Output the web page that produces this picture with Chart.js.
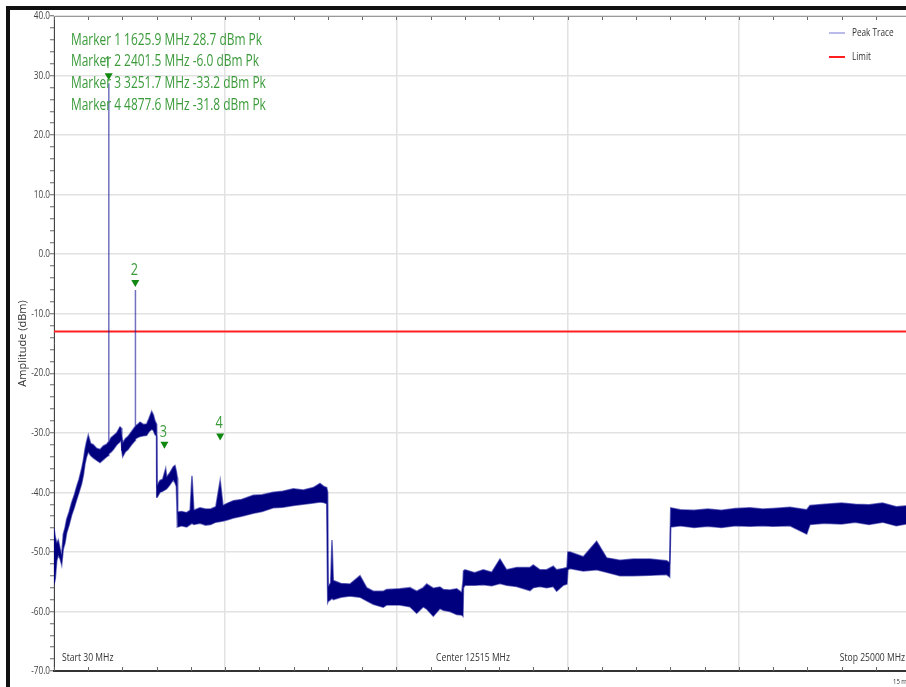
<!DOCTYPE html>
<html>
<head>
<meta charset="utf-8">
<script src="https://cdn.jsdelivr.net/npm/chart.js@4.4.1/dist/chart.umd.min.js"></script>
<style>
    html, body { margin: 0; padding: 0; background: #fff; overflow: hidden; }
    canvas { position: absolute; left: 0; top: 0; }
    #moldura { position: absolute; left: 6px; top: 6px; width: 1000px; height: 1000px;
        border-left: 4px solid #111; border-top: 4px solid #111; pointer-events: none; }
</style>
</head>
<body>
<canvas id="grafico" width="920" height="687"></canvas>
<div id="moldura"></div>
<script>
// varredura 30 MHz - 25 GHz, envoltoria do traco de pico (topo / fundo do ruido)
const frequencias = [
    30, 68, 110, 155, 210, 255, 301, 350, 400, 470, 546, 620, 692, 760, 838, 890, 934, 980, 1030, 1100,
    1176, 1270, 1372, 1470, 1567, 1620, 1625.9, 1632, 1700, 1760, 1860, 1955, 1990, 2010, 2034, 2110,
    2189, 2290, 2393, 2401.5, 2410, 2470, 2539, 2640, 2734, 2800, 2880, 2930, 2976, 3020, 3026,
    3040, 3122, 3200, 3288, 3317, 3400, 3510, 3560, 3600, 3627,
    3640, 3750, 3900, 4000, 4055, 4110, 4289, 4450, 4600, 4750, 4877.6, 4960, 5100, 5261, 5500, 5844,
    6100, 6427, 6700, 7010, 7300, 7594, 7789, 7900, 7984, 8014,
    8030, 8100, 8139, 8178, 8400, 8664, 8956, 9151, 9344, 9636, 9735, 10123, 10414, 10610, 10802,
    10902, 11094, 11289, 11386, 11581, 11777, 11923, 11960,
    11975, 12019, 12300, 12553, 12800, 13039, 13233, 13525, 13914, 14011, 14206, 14400, 14594, 14692, 14886, 14994,
    15020, 15081, 15470, 15859, 16151, 16540, 16929, 17415, 17902, 17990,
    18020, 18300, 18700, 19100, 19500, 19900, 20332, 20700, 21000, 21500, 21987, 22082, 22500,
    23000, 23400, 23800, 24200, 24600, 25000
];
const picoSuperior = [
    -46.0, -47.5, -48.5, -48.0, -49.5, -50.5, -47.0, -46.0, -44.5, -43.3, -41.7, -40.5, -39.0, -37.8, -36.0, -34.5, -32.8, -31.5, -30.4, -31.8,
    -32.0, -32.6, -32.8, -32.2, -31.9, -31.5, 28.7, -31.5, -30.8, -30.5, -30.0, -29.0, -29.2, -30.5, -31.7, -31.0,
    -30.6, -29.8, -29.0, -6.0, -28.8, -28.6, -28.2, -28.6, -28.5, -27.6, -26.4, -27.0, -28.0, -28.5, -29.0,
    -38.8, -38.0, -37.8, -36.0, -37.4, -36.8, -35.7, -35.5, -36.5, -37.5,
    -43.3, -43.2, -43.4, -43.0, -37.2, -43.0, -42.6, -42.8, -42.8, -42.4, -38.0, -42.2, -41.8, -41.4, -41.2, -40.5,
    -40.4, -40.0, -39.8, -39.4, -39.6, -39.2, -38.5, -39.0, -39.2, -40.0,
    -55.8, -55.2, -48.0, -54.8, -55.3, -55.4, -54.0, -56.0, -56.6, -56.6, -56.3, -56.2, -56.0, -56.6, -56.0,
    -55.4, -56.1, -55.9, -56.3, -56.4, -56.2, -56.8, -55.0,
    -53.2, -53.0, -53.5, -53.0, -53.4, -51.2, -53.0, -52.6, -52.6, -52.2, -53.0, -53.0, -52.4, -53.0, -52.8, -52.6,
    -50.0, -50.0, -50.8, -48.2, -51.0, -51.4, -51.2, -51.2, -51.5, -51.8,
    -42.6, -42.9, -43.0, -42.8, -43.0, -42.7, -42.6, -42.8, -42.7, -42.5, -42.9, -42.2, -42.0,
    -41.8, -42.0, -42.1, -41.8, -42.4, -42.2
];
const picoInferior = [
    -55.5, -54.5, -51.5, -50.5, -51.2, -52.2, -49.5, -48.5, -46.8, -45.5, -43.8, -42.6, -41.2, -40.0, -38.5, -37.0, -35.2, -34.0, -33.2, -33.8,
    -34.2, -34.6, -35.0, -34.5, -34.0, -33.8, -33.5, -33.5, -33.2, -32.8, -32.0, -31.5, -31.2, -33.0, -34.0, -33.2,
    -32.8, -32.0, -31.3, -31.3, -31.0, -30.8, -30.6, -30.5, -30.4, -29.8, -29.4, -29.6, -30.3, -30.5, -40.8,
    -40.8, -40.0, -39.8, -39.5, -39.4, -38.8, -37.9, -38.4, -39.0, -45.8,
    -45.8, -45.6, -45.8, -45.4, -45.2, -45.4, -45.2, -45.5, -45.4, -45.0, -44.9, -44.8, -44.6, -44.3, -44.0, -43.5,
    -43.2, -42.6, -42.5, -42.2, -42.0, -41.8, -41.6, -41.7, -41.9, -58.5,
    -58.3, -58.0, -57.8, -58.0, -57.6, -57.4, -57.6, -58.2, -58.8, -59.3, -58.9, -58.9, -59.2, -60.3, -59.2,
    -59.6, -60.8, -59.5, -59.8, -60.0, -60.5, -60.6, -60.8,
    -56.0, -55.6, -55.6, -55.5, -55.7, -55.3, -55.6, -55.8, -56.5, -56.0, -55.8, -56.0, -55.8, -56.6, -55.6, -55.4,
    -53.0, -52.8, -53.2, -53.0, -53.4, -54.0, -54.0, -53.9, -53.8, -54.2,
    -45.8, -45.6, -45.9, -45.7, -45.9, -45.6, -45.7, -45.6, -45.7, -45.6, -47.0, -45.4, -45.2,
    -45.3, -45.0, -45.4, -45.0, -45.6, -45.2
];

const limiteDbm = -13;

const marcadorFreq = [1625.9, 2401.5, 3251.7, 4877.6];
const marcadorDbm = [28.7, -6.0, -33.2, -31.8];

const freqInicio = 30;
const freqFim = 25000;
const ampMin = -70;
const ampMax = 40;

const familia = 'Open Sans';
const corTraco = 'rgba(20, 20, 150, 0.6)';
const verde = '#3a9a3a';

// a fonte do analisador e bem estreita: comprime o texto na horizontal
const medidor = document.createElement('canvas').getContext('2d');
medidor.font = `16px "${familia}"`;
const compressao = 191 / medidor.measureText('Marker 1 1625.9 MHz 28.7 dBm Pk').width;

function escreverEstreito(c, texto, x, y, alinhamento) {
    c.save();
    c.translate(x, y);
    c.scale(compressao, 1);
    c.textAlign = alinhamento;
    c.fillText(texto, 0, 0);
    c.restore();
}

const pluginAnotacoes = {
    id: 'anotacoes',
    afterDatasetsDraw(chart) {
        const c = chart.ctx;
        const x = chart.scales.x;
        const y = chart.scales.y;
        const area = chart.chartArea;
        c.save();
        c.textBaseline = 'middle';

        // marcadores: triangulo + numero
        for (let i = 0; i < marcadorFreq.length; i++) {
            const px = x.getPixelForValue(marcadorFreq[i]);
            const py = y.getPixelForValue(marcadorDbm[i]);
            c.fillStyle = '#118811';
            c.beginPath();
            c.moveTo(px - 4, py - 10);
            c.lineTo(px + 4, py - 10);
            c.lineTo(px, py - 3);
            c.closePath();
            c.fill();
            c.fillStyle = verde;
            c.font = `17px "${familia}"`;
            escreverEstreito(c, String(i + 1), px - 1, py - 20, 'center');
        }

        // leitura dos marcadores
        c.font = `16px "${familia}"`;
        c.fillStyle = verde;
        for (let i = 0; i < marcadorFreq.length; i++) {
            const texto = `Marker ${i + 1} ${marcadorFreq[i].toFixed(1)} MHz ${marcadorDbm[i].toFixed(1)} dBm Pk`;
            escreverEstreito(c, texto, area.left + 17, area.top + 24 + i * 21.8, 'left');
        }

        // legenda
        c.font = `11px "${familia}"`;
        c.fillStyle = '#333';
        const itens = [chart.data.datasets[0], chart.data.datasets[2]];
        itens.forEach((ds, i) => {
            const ly = area.top + 17 + i * 24;
            c.strokeStyle = i === 0 ? 'rgba(70, 70, 200, 0.75)' : ds.borderColor;
            c.lineWidth = i === 0 ? 1 : 2;
            c.beginPath();
            c.moveTo(829, ly);
            c.lineTo(845, ly);
            c.stroke();
            escreverEstreito(c, ds.label, 852, ly, 'left');
        });

        // textos do eixo de frequencia
        c.font = `11.5px "${familia}"`;
        c.fillStyle = '#333';
        const ty = area.bottom - 13;
        escreverEstreito(c, `Start ${freqInicio} MHz`, area.left + 8, ty, 'left');
        escreverEstreito(c, `Center ${(freqInicio + freqFim) / 2} MHz`, 473, ty, 'center');
        escreverEstreito(c, `Stop ${freqFim} MHz`, 905, ty, 'right');

        c.font = `8px "${familia}"`;
        escreverEstreito(c, '15 ms', 893, 682, 'left');
        c.restore();
    },
    afterDraw(chart) {
        const c = chart.ctx;
        const area = chart.chartArea;
        const y = chart.scales.y;
        c.save();

        // rotulos de amplitude
        c.font = `11px "${familia}"`;
        c.fillStyle = '#444';
        c.textBaseline = 'middle';
        for (let v = ampMin; v <= ampMax; v += 10) {
            escreverEstreito(c, v.toFixed(1), area.left - 4, y.getPixelForValue(v), 'right');
        }

        // marcas pequenas nas bordas de cima e de baixo
        c.strokeStyle = '#666';
        c.lineWidth = 1;
        chart.scales.x.ticks.forEach(t => {
            const px = Math.round(chart.scales.x.getPixelForValue(t.value)) + 0.5;
            c.beginPath();
            c.moveTo(px, area.bottom);
            c.lineTo(px, area.bottom - 4);
            c.moveTo(px, area.top);
            c.lineTo(px, area.top + 4);
            c.stroke();
        });
        c.strokeStyle = '#999';
        c.beginPath();
        c.moveTo(area.left, area.top + 0.5);
        c.lineTo(area.right, area.top + 0.5);
        c.stroke();
        c.restore();
    }
};

const dadosPico = frequencias.map((f, i) => ({ x: f, y: picoSuperior[i] }));
const dadosVale = frequencias.map((f, i) => ({ x: f, y: picoInferior[i] }));

new Chart(document.getElementById('grafico'), {
    type: 'line',
    data: {
        datasets: [{
            label: 'Peak Trace',
            data: dadosPico,
            borderColor: corTraco,
            backgroundColor: '#00007f',
            borderWidth: 1.5,
            pointRadius: 0,
            fill: '+1',
            tension: 0
        }, {
            label: 'Peak Trace min',
            data: dadosVale,
            borderColor: corTraco,
            borderWidth: 1.5,
            pointRadius: 0,
            fill: false,
            tension: 0
        }, {
            label: 'Limit',
            data: [{ x: freqInicio, y: limiteDbm }, { x: freqFim, y: limiteDbm }],
            borderColor: '#ff1f1f',
            borderWidth: 2,
            pointRadius: 0,
            fill: false
        }]
    },
    options: {
        responsive: false,
        animation: false,
        layout: { padding: { left: 14, top: 16, right: 10, bottom: 0 } },
        plugins: {
            legend: { display: false },
            tooltip: { enabled: false }
        },
        scales: {
            x: {
                type: 'linear',
                min: freqInicio,
                max: freqFim,
                ticks: { display: false, stepSize: (freqFim - freqInicio) / 25, autoSkip: false },
                grid: {
                    color: (ctx) => ctx.index % 5 === 0 ? '#e2e2e2' : 'rgba(0,0,0,0)',
                    lineWidth: 1.5,
                    drawTicks: false
                },
                border: { color: '#333', width: 2 },
                afterFit: (s) => { s.height = 16; }
            },
            y: {
                min: ampMin,
                max: ampMax,
                ticks: { display: false, stepSize: 2, autoSkip: false },
                grid: {
                    color: (ctx) => (ctx.tick && ctx.tick.value % 10 === 0) ? '#e2e2e2' : 'rgba(0,0,0,0)',
                    lineWidth: 1.5,
                    tickLength: 4,
                    tickColor: '#666',
                    tickWidth: 1
                },
                border: { color: '#444', width: 1 },
                title: {
                    display: true,
                    text: 'Amplitude (dBm)',
                    color: '#333',
                    font: { family: familia, size: 11 },
                    padding: { top: 2, bottom: 0 }
                },
                afterFit: (s) => { s.width = 40; }
            }
        }
    },
    plugins: [pluginAnotacoes]
});
</script>
</body>
</html>
